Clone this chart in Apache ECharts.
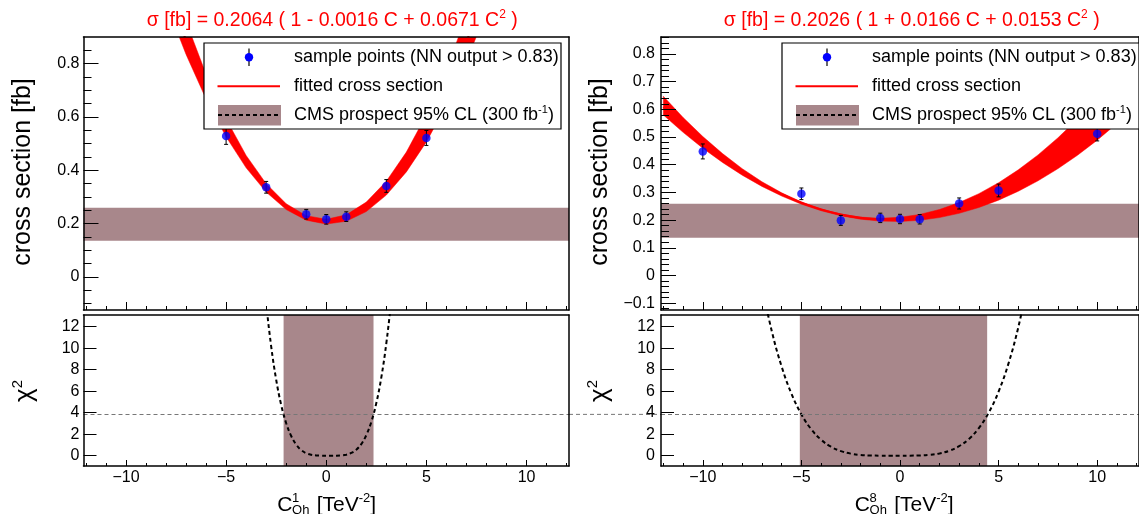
<!DOCTYPE html>
<html>
<head>
<meta charset="utf-8">
<script src="https://cdn.jsdelivr.net/npm/echarts@6/dist/echarts.min.js"></script>
<style>
  html, body { margin: 0; padding: 0; background: #ffffff; }
  #chart { width: 1139px; height: 514px; }
</style>
</head>
<body>
<div id="chart"></div>
<script>
// ---------------- data ----------------
// quadratic fit coefficients: sigma = s0 (1 + a C + b C^2)
const fitCoefLeft  = [0.2064, -0.0016, 0.0671];
const fitCoefRight = [0.2026,  0.0166, 0.0153];

// fitted cross section (central, lower and upper edge of the uncertainty band) vs C [TeV^-2]
const fitCLeft   = [-8, -7, -6, -5, -4, -3, -2, -1, 0, 1, 2, 3, 4, 5, 6, 7, 8];
const fitMidLeft = [1.0954, 0.8873, 0.7070, 0.5543, 0.4293, 0.3320, 0.2625, 0.2206, 0.2064, 0.2199, 0.2611, 0.3301, 0.4267, 0.5510, 0.7030, 0.8827, 1.0901];
const fitLoLeft  = [1.0267, 0.8342, 0.6670, 0.5253, 0.4090, 0.3181, 0.2526, 0.2126, 0.1980, 0.2088, 0.2450, 0.3067, 0.3938, 0.5063, 0.6442, 0.8076, 0.9963];
const fitHiLeft  = [1.1866, 0.9577, 0.7596, 0.5922, 0.4555, 0.3496, 0.2743, 0.2298, 0.2160, 0.2329, 0.2805, 0.3588, 0.4679, 0.6077, 0.7781, 0.9793, 1.2112];

const fitCRight   = [-12, -11, -10, -9, -8, -7, -6, -5, -4, -3, -2, -1, 0, 1, 2, 3, 4, 5, 6, 7, 8, 9, 10, 11, 12];
const fitMidRight = [0.6086, 0.5407, 0.4789, 0.4234, 0.3741, 0.3309, 0.2940, 0.2633, 0.2387, 0.2204, 0.2083, 0.2023, 0.2026, 0.2091, 0.2217, 0.2406, 0.2656, 0.2969, 0.3344, 0.3780, 0.4279, 0.4840, 0.5462, 0.6147, 0.6893];
const fitLoRight  = [0.5798, 0.5170, 0.4598, 0.4082, 0.3622, 0.3217, 0.2869, 0.2576, 0.2339, 0.2158, 0.2033, 0.1963, 0.1950, 0.1992, 0.2091, 0.2245, 0.2454, 0.2720, 0.3042, 0.3419, 0.3853, 0.4342, 0.4887, 0.5487, 0.6144];
const fitHiRight  = [0.6470, 0.5708, 0.5019, 0.4402, 0.3857, 0.3385, 0.2985, 0.2657, 0.2401, 0.2217, 0.2106, 0.2067, 0.2100, 0.2205, 0.2383, 0.2633, 0.2955, 0.3350, 0.3816, 0.4355, 0.4966, 0.5649, 0.6405, 0.7233, 0.8133];

// sample points (NN output > 0.83) with errors
const ptsCLeft   = [-5, -3, -1, 0, 1, 3, 5];
const ptsYLeft   = [0.528, 0.336, 0.235, 0.216, 0.226, 0.341, 0.521];
const ptsErrLeft = [0.031, 0.022, 0.018, 0.018, 0.018, 0.024, 0.028];

const ptsCRight   = [-10, -5, -3, -1, 0, 1, 3, 5, 10];
const ptsYRight   = [0.448, 0.295, 0.199, 0.208, 0.204, 0.203, 0.260, 0.307, 0.512];
const ptsErrRight = [0.027, 0.021, 0.018, 0.017, 0.017, 0.017, 0.020, 0.023, 0.026];

// CMS prospect 95% CL band on the cross section [fb]
const cmsBand = [0.136, 0.259];

// chi^2 vs C
const chiCLeft = [-3.25, -3, -2.75, -2.5, -2.25, -2, -1.75, -1.5, -1.25, -1, -0.75, -0.5, -0.25, 0, 0.25, 0.5, 0.75, 1, 1.25, 1.5, 1.75, 2, 2.25, 2.5, 2.75, 3, 3.25, 3.5];
const chiVLeft = [19.36, 14.22, 10.17, 7.06, 4.72, 3.02, 1.83, 1.03, 0.52, 0.23, 0.085, 0.022, 0.003, 0.0, 0.0, 0.003, 0.025, 0.093, 0.251, 0.556, 1.08, 1.91, 3.14, 4.89, 7.28, 10.46, 14.59, 19.8];
const chiCRight = [-7, -6.5, -6, -5.5, -5, -4.5, -4, -3.5, -3, -2.5, -2, -1.5, -1, -0.5, 0, 0.5, 1, 1.5, 2, 2.5, 3, 3.5, 4, 4.5, 5, 5.5, 6, 6.5];
const chiVRight = [15.75, 11.56, 8.27, 5.74, 3.84, 2.45, 1.48, 0.833, 0.425, 0.189, 0.068, 0.017, 0.002, 0.0, 0.0, 0.003, 0.020, 0.076, 0.206, 0.457, 0.886, 1.56, 2.57, 4.00, 5.96, 8.56, 11.94, 16.22];

// 95% CL allowed intervals of C and the chi^2 threshold
const allowedLeft  = [-2.13, 2.36];
const allowedRight = [-5.08, 4.42];
const chi2Cut = 3.84;

// axis ranges and tick values
const xRange      = [-12.12, 12.12];
const xMajor      = [-10, -5, 0, 5, 10];
const xMinor      = [-12, -11, -9, -8, -7, -6, -4, -3, -2, -1, 1, 2, 3, 4, 6, 7, 8, 9, 11, 12];
const yRangeTopL  = [-0.124, 0.8995];
const yMajorTopL  = [0, 0.2, 0.4, 0.6, 0.8];
const yMinorTopL  = [-0.1, -0.05, 0.05, 0.1, 0.15, 0.25, 0.3, 0.35, 0.45, 0.5, 0.55, 0.65, 0.7, 0.75, 0.85];
const yRangeTopR  = [-0.1247, 0.8613];
const yMajorTopR  = [-0.1, 0, 0.1, 0.2, 0.3, 0.4, 0.5, 0.6, 0.7, 0.8];
const yMinorTopR  = [-0.12, -0.08, -0.06, -0.04, -0.02, 0.02, 0.04, 0.06, 0.08, 0.12, 0.14, 0.16, 0.18, 0.22, 0.24, 0.26, 0.28, 0.32, 0.34, 0.36, 0.38, 0.42, 0.44, 0.46, 0.48, 0.52, 0.54, 0.56, 0.58, 0.62, 0.64, 0.66, 0.68, 0.72, 0.74, 0.76, 0.78, 0.82, 0.84, 0.86];
const yRangeChi   = [-0.96, 13.08];
const yMajorChi   = [0, 2, 4, 6, 8, 10, 12];

// ---------------- styling ----------------
const FONT  = 'Liberation Sans, Arial, Helvetica, sans-serif';
const RED   = '#ff0000';
const BLUE  = '#0000ff';
const BROWN = '#a8878b';

// pad geometry
const PAD = {
  leftX: 83.5, rightX: 661, w: 485.5,
  topY: 37, topH: 273, botY: 315, botH: 151
};

const grids = [
  { left: PAD.leftX,  top: PAD.topY, width: PAD.w, height: PAD.topH },
  { left: PAD.leftX,  top: PAD.botY, width: PAD.w, height: PAD.botH },
  { left: PAD.rightX, top: PAD.topY, width: PAD.w, height: PAD.topH },
  { left: PAD.rightX, top: PAD.botY, width: PAD.w, height: PAD.botH }
];

const xAxes = [];
const yAxes = [];

function tickFmt(v) {
  const r = Math.round(v * 1000) / 1000;
  return String(r).replace('-', '\u2212');
}

// Frame of one pad: main axes with labels + long ticks, minor-tick axes, opposite frame edges
function addFrame(grid, yr, spec) {
  const xi = xAxes.length;
  const lineSt = { color: '#000', width: 1.5 };
  xAxes.push({
    gridIndex: grid, type: 'value', min: xRange[0], max: xRange[1], position: 'bottom', z: 10,
    axisLine: { show: true, onZero: false, lineStyle: lineSt },
    axisTick: { show: true, inside: true, length: spec.xMajLen, customValues: xMajor, lineStyle: { color: '#000', width: 1 } },
    axisLabel: { show: spec.xLabels, customValues: xMajor, formatter: tickFmt, fontSize: 16, fontFamily: FONT, color: '#000', margin: 4 },
    splitLine: { show: false }
  });
  xAxes.push({
    gridIndex: grid, type: 'value', min: xRange[0], max: xRange[1], position: 'bottom', z: 10,
    axisLine: { show: false, onZero: false },
    axisTick: { show: true, inside: true, length: spec.xMinLen, customValues: xMinor, lineStyle: { color: '#000', width: 1 } },
    axisLabel: { show: false }, splitLine: { show: false }
  });
  xAxes.push({
    gridIndex: grid, type: 'value', min: xRange[0], max: xRange[1], position: 'top', z: 10,
    axisLine: { show: true, onZero: false, lineStyle: lineSt },
    axisTick: { show: false }, axisLabel: { show: false }, splitLine: { show: false }
  });

  const yi = yAxes.length;
  yAxes.push({
    gridIndex: grid, type: 'value', min: yr[0], max: yr[1], position: 'left', z: 10,
    axisLine: { show: true, onZero: false, lineStyle: lineSt },
    axisTick: { show: true, inside: true, length: spec.yMajLen, customValues: spec.yMajor, lineStyle: { color: '#000', width: 1 } },
    axisLabel: { show: true, customValues: spec.yMajor, formatter: tickFmt, fontSize: 16, fontFamily: FONT, color: '#000', margin: spec.yMargin },
    splitLine: { show: false }
  });
  yAxes.push({
    gridIndex: grid, type: 'value', min: yr[0], max: yr[1], position: 'left', z: 10,
    axisLine: { show: false, onZero: false },
    axisTick: { show: !!spec.yMinor, inside: true, length: spec.yMinLen || 0, customValues: spec.yMinor || [], lineStyle: { color: '#000', width: 1 } },
    axisLabel: { show: false }, splitLine: { show: false }
  });
  yAxes.push({
    gridIndex: grid, type: 'value', min: yr[0], max: yr[1], position: 'right', z: 10,
    axisLine: { show: true, onZero: false, lineStyle: lineSt },
    axisTick: { show: false }, axisLabel: { show: false }, splitLine: { show: false }
  });
  return { x: xi, y: yi };
}

const axTL = addFrame(0, yRangeTopL, { xLabels: false, xMajLen: 8, xMinLen: 4, yMajor: yMajorTopL, yMinor: yMinorTopL, yMajLen: 15, yMinLen: 8, yMargin: 4 });
const axBL = addFrame(1, yRangeChi,  { xLabels: true,  xMajLen: 6, xMinLen: 3, yMajor: yMajorChi, yMajLen: 13, yMargin: 4 });
const axTR = addFrame(2, yRangeTopR, { xLabels: false, xMajLen: 8, xMinLen: 4, yMajor: yMajorTopR, yMinor: yMinorTopR, yMajLen: 15, yMinLen: 8, yMargin: 6 });
const axBR = addFrame(3, yRangeChi,  { xLabels: true,  xMajLen: 6, xMinLen: 3, yMajor: yMajorChi, yMajLen: 13, yMargin: 6 });

function pairs(xs, ys) { return xs.map((x, i) => [x, ys[i]]); }

// horizontal CMS band across the whole pad
function cmsBandSeries(ax) {
  return {
    type: 'custom', xAxisIndex: ax.x, yAxisIndex: ax.y, z: 1, silent: true, clip: true,
    data: [[cmsBand[0], cmsBand[1]]],
    renderItem: function (params, api) {
      const a = api.coord([xRange[0], api.value(1)]);
      const b = api.coord([xRange[1], api.value(0)]);
      return { type: 'rect', shape: { x: a[0], y: a[1], width: b[0] - a[0], height: b[1] - a[1] }, style: { fill: BROWN } };
    }
  };
}

// vertical allowed interval in the chi^2 pad
function allowedSeries(ax, range) {
  return {
    type: 'custom', xAxisIndex: ax.x, yAxisIndex: ax.y, z: 1, silent: true, clip: true,
    data: [[range[0], range[1]]],
    renderItem: function (params, api) {
      const a = api.coord([api.value(0), yRangeChi[1]]);
      const b = api.coord([api.value(1), yRangeChi[0]]);
      return { type: 'rect', shape: { x: a[0], y: a[1], width: b[0] - a[0], height: b[1] - a[1] }, style: { fill: BROWN } };
    }
  };
}

// red uncertainty band of the fit: one polygon, upper edge left→right then lower edge back
function fitBandSeries(ax, cs, lo, hi, mid) {
  return [
    {
      type: 'custom', xAxisIndex: ax.x, yAxisIndex: ax.y, z: 2, silent: true, clip: true,
      data: cs.map((c, i) => [c, lo[i], hi[i]]),
      renderItem: function (params, api) {
        if (params.dataIndex !== 0) return null;
        const pts = [];
        for (let i = 0; i < cs.length; i++) pts.push(api.coord([cs[i], hi[i]]));
        for (let i = cs.length - 1; i >= 0; i--) pts.push(api.coord([cs[i], lo[i]]));
        return {
          type: 'polygon', shape: { points: pts },
          style: { fill: RED, stroke: RED, lineWidth: 0.5 }
        };
      }
    },
    {
      type: 'line', xAxisIndex: ax.x, yAxisIndex: ax.y, z: 3, silent: true,
      data: pairs(cs, mid), symbol: 'none', smooth: 0.3,
      lineStyle: { width: 2, color: RED }
    }
  ];
}

function errorBarSeries(ax, cs, ys, es) {
  return {
    type: 'custom', xAxisIndex: ax.x, yAxisIndex: ax.y, z: 4, silent: true, clip: true,
    data: cs.map((c, i) => [c, ys[i], es[i]]),
    renderItem: function (params, api) {
      const x = api.value(0), y = api.value(1), e = api.value(2);
      const p1 = api.coord([x, y - e]);
      const p2 = api.coord([x, y + e]);
      const cap = 2;
      const st = { stroke: '#000', lineWidth: 1 };
      return {
        type: 'group', children: [
          { type: 'line', shape: { x1: p1[0], y1: p1[1], x2: p2[0], y2: p2[1] }, style: st },
          { type: 'line', shape: { x1: p1[0] - cap, y1: p1[1], x2: p1[0] + cap, y2: p1[1] }, style: st },
          { type: 'line', shape: { x1: p2[0] - cap, y1: p2[1], x2: p2[0] + cap, y2: p2[1] }, style: st }
        ]
      };
    }
  };
}

function pointSeries(ax, cs, ys) {
  return {
    type: 'scatter', xAxisIndex: ax.x, yAxisIndex: ax.y, z: 5, silent: true,
    data: pairs(cs, ys), symbol: 'circle', symbolSize: 8.5,
    itemStyle: { color: BLUE }
  };
}

function chiSeries(ax, cs, vs) {
  return {
    type: 'line', xAxisIndex: ax.x, yAxisIndex: ax.y, z: 3, silent: true,
    data: pairs(cs, vs), symbol: 'none', smooth: 0.4,
    lineStyle: { color: '#000', width: 2, type: [4, 3] },
    markLine: {
      silent: true, symbol: ['none', 'none'], label: { show: false },
      lineStyle: { color: '#777777', width: 1, type: [4, 3] },
      data: [{ yAxis: chi2Cut }]
    }
  };
}

// ---------------- text & legend ----------------
function coefTitle(c) {
  const term = v => (v < 0 ? '- ' : '+ ') + Math.abs(v).toFixed(4);
  return '{a|\u03c3 [fb] = ' + c[0].toFixed(4) + ' ( 1 ' + term(c[1]) + ' C ' + term(c[2]) + ' C}{s|2}{a| )}';
}

const titleRich = {
  a: { fontSize: 19.5, fontFamily: FONT, color: RED, lineHeight: 24 },
  s: { fontSize: 12, fontFamily: FONT, color: RED, verticalAlign: 'top', lineHeight: 24 }
};

function titleText(cx, coefs) {
  return {
    type: 'text', x: cx, y: 21, z: 100,
    style: { text: coefTitle(coefs), rich: titleRich, align: 'center', verticalAlign: 'middle', fill: RED }
  };
}

function legendBox(x0, y0) {
  const txt = { fontSize: 18, fontFamily: FONT, fill: '#000', verticalAlign: 'middle', align: 'left' };
  const Z = 100;
  return {
    type: 'group', x: x0, y: y0, z: Z,
    children: [
      { type: 'rect', z: Z, shape: { x: 0, y: 0, width: 357, height: 86 }, style: { fill: '#ffffff', stroke: '#000', lineWidth: 1.2 } },
      { type: 'line', z: Z + 1, shape: { x1: 45, y1: 5.5, x2: 45, y2: 23 }, style: { stroke: '#000', lineWidth: 1.2 } },
      { type: 'circle', z: Z + 2, shape: { cx: 45, cy: 14.3, r: 4.2 }, style: { fill: BLUE } },
      { type: 'line', z: Z + 1, shape: { x1: 13.5, y1: 43.3, x2: 76, y2: 43.3 }, style: { stroke: RED, lineWidth: 2 } },
      { type: 'rect', z: Z + 1, shape: { x: 14, y: 62, width: 63, height: 20.5 }, style: { fill: BROWN } },
      { type: 'line', z: Z + 2, shape: { x1: 14, y1: 72, x2: 77, y2: 72 }, style: { stroke: '#000', lineWidth: 2, lineDash: [4, 3] } },
      { type: 'text', z: Z + 1, x: 90, y: 14.5, style: Object.assign({ text: 'sample points (NN output > 0.83)' }, txt) },
      { type: 'text', z: Z + 1, x: 90, y: 43.5, style: Object.assign({ text: 'fitted cross section' }, txt) },
      { type: 'text', z: Z + 1, x: 90, y: 72, style: Object.assign({
          text: '{a|CMS prospect 95% CL (300 fb}{s|-1}{a|)}',
          rich: {
            a: { fontSize: 18, fontFamily: FONT, color: '#000', lineHeight: 22 },
            s: { fontSize: 11, fontFamily: FONT, color: '#000', verticalAlign: 'top', lineHeight: 22 }
          } }, txt) }
    ]
  };
}

function yTitle(cx, cy, text, rich, size) {
  return {
    type: 'text', x: cx, y: cy, rotation: Math.PI / 2, z: 100,
    style: { text: text, rich: rich, fontSize: size, fontFamily: FONT, fill: '#000', align: 'center', verticalAlign: 'middle' }
  };
}

const chiRich = {
  a: { fontSize: 26, fontFamily: FONT, color: '#000', lineHeight: 30 },
  s: { fontSize: 15, fontFamily: FONT, color: '#000', verticalAlign: 'top', lineHeight: 30 }
};

function xTitle(cx, sup) {
  const base = { fontFamily: FONT, fill: '#000', verticalAlign: 'middle', align: 'left' };
  return {
    type: 'group', x: cx - 49, y: 0, z: 100,
    children: [
      { type: 'text', z: 100, x: 0, y: 505, style: Object.assign({ text: 'C', fontSize: 21 }, base) },
      { type: 'text', z: 100, x: 14.8, y: 498, style: Object.assign({ text: sup, fontSize: 13 }, base) },
      { type: 'text', z: 100, x: 14.8, y: 510.5, style: Object.assign({ text: 'Qh', fontSize: 13 }, base) },
      { type: 'text', z: 100, x: 39.5, y: 505, style: Object.assign({
          text: '{a|[TeV}{s|-2}{a|]}',
          rich: {
            a: { fontSize: 21, fontFamily: FONT, color: '#000', lineHeight: 26 },
            s: { fontSize: 13, fontFamily: FONT, color: '#000', verticalAlign: 'top', lineHeight: 26 }
          } }, base) }
    ]
  };
}

const centerL = PAD.leftX + PAD.w / 2;
const centerR = PAD.rightX + PAD.w / 2;

const graphics = [
  titleText(centerL + 6, fitCoefLeft),
  titleText(centerR + 8, fitCoefRight),
  legendBox(PAD.leftX + 120.5, 43),
  legendBox(PAD.rightX + 121, 43),
  yTitle(23, 172, 'cross section [fb]', null, 25),
  yTitle(600, 172, 'cross section [fb]', null, 25),
  yTitle(25, 391, '{a|\u03c7}{s|2}', chiRich, 26),
  yTitle(600, 391, '{a|\u03c7}{s|2}', chiRich, 26),
  xTitle(centerL, '1'),
  xTitle(centerR, '8')
];

const series = [].concat(
  [cmsBandSeries(axTL)],
  fitBandSeries(axTL, fitCLeft, fitLoLeft, fitHiLeft, fitMidLeft),
  [errorBarSeries(axTL, ptsCLeft, ptsYLeft, ptsErrLeft), pointSeries(axTL, ptsCLeft, ptsYLeft)],
  [cmsBandSeries(axTR)],
  fitBandSeries(axTR, fitCRight, fitLoRight, fitHiRight, fitMidRight),
  [errorBarSeries(axTR, ptsCRight, ptsYRight, ptsErrRight), pointSeries(axTR, ptsCRight, ptsYRight)],
  [allowedSeries(axBL, allowedLeft), chiSeries(axBL, chiCLeft, chiVLeft)],
  [allowedSeries(axBR, allowedRight), chiSeries(axBR, chiCRight, chiVRight)]
);

const chart = echarts.init(document.getElementById('chart'), null, { renderer: 'canvas' });
chart.setOption({
  animation: false,
  backgroundColor: '#ffffff',
  textStyle: { fontFamily: FONT },
  grid: grids,
  xAxis: xAxes,
  yAxis: yAxes,
  series: series,
  graphic: graphics
});

// chi^2 threshold continues across the gap between the two lower pads
const yCutPix = chart.convertToPixel({ yAxisIndex: axBL.y }, chi2Cut);
const xGapL = chart.convertToPixel({ xAxisIndex: axBL.x }, xRange[1]);
const xGapR = chart.convertToPixel({ xAxisIndex: axBR.x }, xRange[0]);
chart.setOption({
  graphic: graphics.concat([{
    type: 'line', z: 5, silent: true,
    shape: { x1: xGapL, y1: yCutPix, x2: xGapR, y2: yCutPix },
    style: { stroke: '#777777', lineWidth: 1, lineDash: [4, 3] }
  }])
});
</script>
</body>
</html>
